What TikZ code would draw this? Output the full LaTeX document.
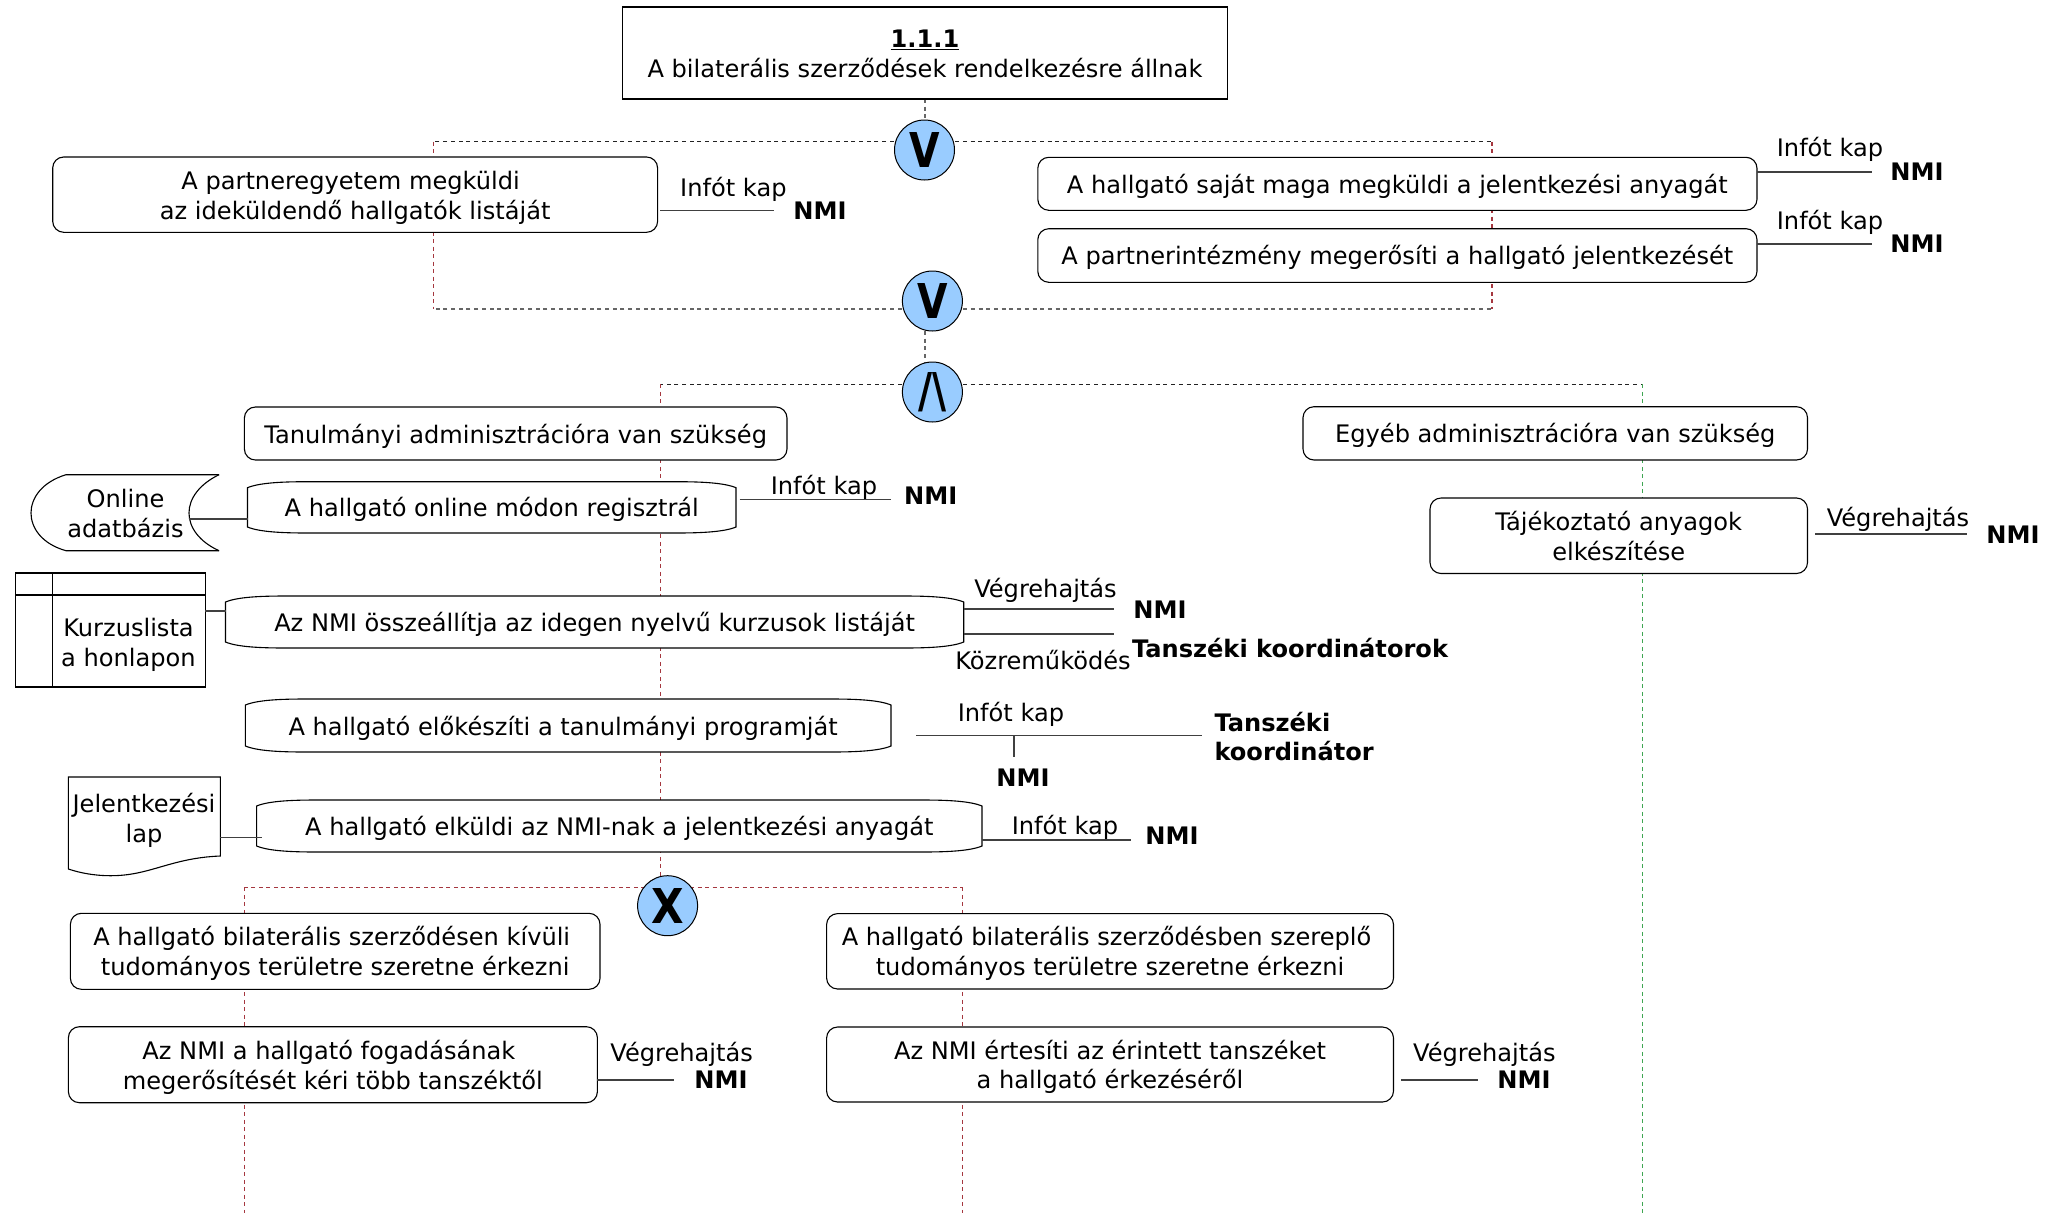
\documentclass[tikz,border=0pt]{standalone}
\usepackage{fontspec}
\usepackage{graphicx}
\setmainfont{DejaVu Sans}
\usetikzlibrary{calc}
\definecolor{gateblue}{HTML}{99CCFF}
\definecolor{redline}{HTML}{A5373F}
\definecolor{greenline}{HTML}{3FA652}
\definecolor{lineblack}{HTML}{222222}
\definecolor{linegrey}{HTML}{666666}
\newcommand{\lbl}{\fontsize{24.1}{29.8}\selectfont}
\newcommand{\gl}[2]{\scalebox{#1}[1]{#2}}
\newcommand{\pushdown}{\rule{0pt}{24pt}}
\pgfdeclarelayer{lines}
\pgfsetlayers{lines,main}
\tikzset{
  x=1pt,y=-1pt,
  every node/.style={inner sep=0pt,outer sep=0pt,font=\lbl,align=center},
  roundbox/.style={draw=black,fill=white,line width=1.1pt,rounded corners=11pt},
  plainbox/.style={draw=black,fill=white,line width=1.1pt},
  gate/.style={draw=black,fill=gateblue,line width=1pt,circle,minimum size=60pt,font=\fontsize{48}{48}\selectfont\bfseries},
  role/.style={font=\lbl\bfseries},
  link/.style={draw=black!75,line width=1.2pt},
  dashblack/.style={draw=lineblack,line width=1.1pt,dash pattern=on 4pt off 3.7pt},
  dashgrey/.style={draw=linegrey,line width=1.1pt,dash pattern=on 4pt off 3.7pt},
  dashred/.style={draw=redline,line width=1.1pt,dash pattern=on 4pt off 3.5pt},
  dashgreen/.style={draw=greenline,line width=1.1pt,dash pattern=on 4pt off 3.5pt},
  wavebox/.style={draw=black,fill=white,line width=1.1pt},
}
\newcommand{\wbox}[6]{%
  \pgfmathsetmacro{\xa}{#2+60}\pgfmathsetmacro{\xb}{#4-60}%
  \pgfmathsetmacro{\ya}{#3+6}\pgfmathsetmacro{\yb}{#5-6}%
  \pgfmathsetmacro{\bw}{#4-#2}\pgfmathsetmacro{\bh}{#5-#3}%
  \pgfmathsetmacro{\cx}{(#2+#4)/2}\pgfmathsetmacro{\cy}{(#3+#5)/2}%
  \draw[wavebox] (#2,\ya) .. controls (#2+12,#3+1) and (#2+35,#3) .. (\xa,#3) -- (\xb,#3)
    .. controls (#4-35,#3) and (#4-12,#3+1) .. (#4,\ya) -- (#4,\yb)
    .. controls (#4-12,#5-1) and (#4-35,#5) .. (\xb,#5) -- (\xa,#5)
    .. controls (#2+35,#5) and (#2+12,#5-1) .. (#2,\yb) -- cycle;
  \node[minimum width=\bw pt,minimum height=\bh pt] (#1) at (\cx,\cy) {\pushdown #6};%
}
\newcommand{\rbox}[6]{%
  \pgfmathsetmacro{\bw}{#4-#2}\pgfmathsetmacro{\bh}{#5-#3}%
  \pgfmathsetmacro{\cx}{(#2+#4)/2}\pgfmathsetmacro{\cy}{(#3+#5)/2}%
  \node[roundbox,minimum width=\bw pt,minimum height=\bh pt] (#1) at (\cx,\cy) {\pushdown #6};%
}
\begin{document}
\begin{tikzpicture}
\useasboundingbox (0,0) rectangle (2067,1213);
\begin{pgfonlayer}{lines}
\fill[white] (0,0) rectangle (2067,1213);
\end{pgfonlayer}

\coordinate (t1L) at (433.7,141.7); \coordinate (t1R) at (1492,141.7);
\coordinate (t2L) at (433.7,309);   \coordinate (t2R) at (1492,309);
\coordinate (t3L) at (660.5,384.3); \coordinate (t3R) at (1642.7,384.3);
\coordinate (t4L) at (244.4,887.4); \coordinate (t4R) at (962.4,887.4);
\coordinate (bL) at (244.4,1213);   \coordinate (bR) at (962.4,1213); \coordinate (bG) at (1642.7,1213);
\coordinate (xred) at (660.5,880);
\coordinate (g1top) at (925,120); \coordinate (g2bot) at (925,331); \coordinate (g3top) at (925,362);

\node[gate] (g1) at (924.5,150) {\gl{0.82}{V}};
\node[gate] (g2) at (932.4,301) {\gl{0.82}{V}};
\node[gate] (g3) at (932.4,392) {\gl{0.8}{/\kern-0.02em\textbackslash}};
\node[gate] (g4) at (667.6,905.7) {\gl{0.88}{X}};

\node[plainbox,minimum width=605pt,minimum height=92pt] (top) at (925,53) {};
\node[font=\lbl\bfseries] (toptitle) at (925,40) {\underline{1.1.1}};
\node (toptext) at (925,68.5) {A bilaterális szerződések rendelkezésre állnak};

\begin{pgfonlayer}{lines}
\draw[dashgrey] (top.south -| g1top) -- (g1top);
\draw[dashblack] (g1 |- t1L) -- (t1L);
\draw[dashblack] (g1 |- t1R) -- (t1R);
\draw[dashred] (t1L) -- (t2L);
\draw[dashred] (t1R) -- (t2R);
\draw[dashgrey] (g2 |- t2L) -- (t2L);
\draw[dashgrey] (g2 |- t2R) -- (t2R);
\draw[dashgrey] (g2bot) -- (g3top);
\draw[dashblack] (g3 |- t3L) -- (t3L);
\draw[dashblack] (g3 |- t3R) -- (t3R);
\draw[dashred] (t3L) -- (xred);
\draw[dashgreen] (t3R) -- (bG);
\draw[dashred] (g4 |- t4L) -- (t4L);
\draw[dashred] (g4 |- t4R) -- (t4R);
\draw[dashred] (t4L) -- (bL);
\draw[dashred] (t4R) -- (bR);
\end{pgfonlayer}

\rbox{p}{52.7}{157}{657.6}{232.3}{A partneregyetem megküldi\hspace*{9pt}\\az ideküldendő hallgatók listáját}
\rbox{ra}{1037.8}{157.3}{1757}{210.3}{A hallgató saját maga megküldi a jelentkezési anyagát}
\rbox{rb}{1037.8}{228.7}{1757}{282.3}{A partnerintézmény megerősíti a hallgató jelentkezését}
\rbox{ta}{244.4}{407}{787}{460}{Tanulmányi adminisztrációra van szükség}
\rbox{eg}{1303}{406.7}{1807.5}{460}{Egyéb adminisztrációra van szükség}
\node[roundbox,minimum width=377.5pt,minimum height=75.5pt] (tj) at (1618.75,535.75) {Tájékoztató anyagok\\elkészítése};
\rbox{la}{70.4}{913.3}{600}{989.3}{A hallgató bilaterális szerződésen kívüli\hspace*{7pt}\\tudományos területre szeretne érkezni}
\rbox{lb}{68.4}{1026.7}{597.4}{1102.7}{Az NMI a hallgató fogadásának\hspace*{8pt}\\megerősítését kéri több tanszéktől}
\rbox{ma}{826.6}{913.6}{1393.5}{989}{A hallgató bilaterális szerződésben szereplő\hspace*{7pt}\\tudományos területre szeretne érkezni}
\rbox{mb}{826.6}{1027}{1393.5}{1102}{Az NMI értesíti az érintett tanszéket\\a hallgató érkezéséről}

\wbox{on}{247.5}{481.7}{736}{533}{A hallgató online módon regisztrál}
\wbox{ku}{225.5}{596}{963.7}{648}{Az NMI összeállítja az idegen nyelvű kurzusok listáját}
\wbox{pr}{245.4}{699}{891}{752}{A hallgató előkészíti a tanulmányi programját\hspace*{10pt}}
\wbox{se}{256.6}{800}{982}{852}{A hallgató elküldi az NMI-nak a jelentkezési anyagát}

\draw[plainbox] (219,474.7) -- (66,474.7) .. controls (42,482) and (31,498) .. (31,513)
   .. controls (31,528) and (42,544) .. (66,550.7) -- (219,550.7);
\draw[draw=black,line width=1.1pt] (219,474.7) .. controls (200,484) and (189,498) .. (189,513) .. controls (189,528) and (200,542) .. (219,550.7);
\node (db) at (125.5,513.5) {Online\\adatbázis};
\coordinate (dbe) at (189,519);
\draw[link] (dbe) -- (on.west |- dbe);

\node[plainbox,minimum width=189.7pt,minimum height=114pt] (tb) at (110.2,630) {};
\coordinate (tbh) at (15.3,595); \coordinate (tbv) at (52.5,573);
\draw[plainbox] (tbh) -- (tb.east |- tbh);
\draw[plainbox] (tbv) -- (tbv |- tb.south);
\node (tbt) at (128.5,644.6) {Kurzuslista\\a honlapon};
\coordinate (tbc) at (205,611);
\draw[link] (tbc) -- (ku.west |- tbc);

\draw[plainbox] (68.4,777) -- (220.4,777) -- (220.4,856) .. controls (170,858) and (150,876) .. (110,875.7) .. controls (95,875.7) and (80,873) .. (68.4,869) -- cycle;
\node (dc) at (144,820) {Jelentkezési\\lap};
\coordinate (dce) at (220.4,837.7); \coordinate (dcf) at (262,837.7);
\draw[link] (dce) -- (dcf);

\coordinate (e1) at (773.5,210.7); \coordinate (s1) at (660,210.7); \draw[link] (s1) -- (e1);
\coordinate (e2) at (1872,172); \draw[link] (ra.east |- e2) -- (e2);
\coordinate (e3) at (1872,244); \draw[link] (rb.east |- e3) -- (e3);
\coordinate (e4) at (891,499.6); \coordinate (s4) at (739.6,499.6); \draw[link] (s4) -- (e4);
\coordinate (e5) at (1967,534); \coordinate (s5) at (1815.4,534); \draw[link] (s5) -- (e5);
\coordinate (e6) at (1114,609); \draw[link] (ku.east |- e6) -- (e6);
\coordinate (e7) at (1114,634); \draw[link] (ku.east |- e7) -- (e7);
\coordinate (e8a) at (916,735.6); \coordinate (e8) at (1202,735.6); \draw[link] (e8a) -- (e8);
\coordinate (e9) at (1014,735.6); \coordinate (e9b) at (1014,757); \draw[link] (e9) -- (e9b);
\coordinate (e10) at (1131,840); \draw[link] (se.east |- e10) -- (e10);
\coordinate (e11) at (674,1080); \draw[link] (lb.east |- e11) -- (e11);
\coordinate (e12a) at (1401,1080); \coordinate (e12) at (1478,1080); \draw[link] (e12a) -- (e12);

\node (l1) at (733.4,189.3) {Infót kap};
\node[role] (n1) at (820,211) {NMI};
\node (l2) at (1830,149.6) {Infót kap};
\node[role] (n2) at (1917,172) {NMI};
\node (l3) at (1830,222) {Infót kap};
\node[role] (n3) at (1917,244) {NMI};
\node (l4) at (824,487) {Infót kap};
\node[role] (n4) at (930.7,496) {NMI};
\node (l5) at (1898,519.6) {Végrehajtás};
\node[role] (n5) at (2013,535) {NMI};
\node (l6) at (1045.5,590) {Végrehajtás};
\node[role] (n6) at (1160,610) {NMI};
\node (l7) at (1043,660) {Közreműködés};
\node[role,anchor=west] (n7) at (1132,648) {Tanszéki koordinátorok};
\node (l8) at (1011,714.6) {Infót kap};
\node[role] (n8) at (1023,778) {NMI};
\node[role,anchor=west,align=left] (n9) at (1214.5,736.5) {Tanszéki\\koordinátor};
\node (l10) at (1065,827.6) {Infót kap};
\node[role] (n10) at (1172,836) {NMI};
\node (l11) at (681.6,1054.6) {Végrehajtás};
\node[role] (n11) at (721,1080) {NMI};
\node (l12) at (1484.4,1054.6) {Végrehajtás};
\node[role] (n12) at (1524,1080) {NMI};
\end{tikzpicture}
\end{document}
